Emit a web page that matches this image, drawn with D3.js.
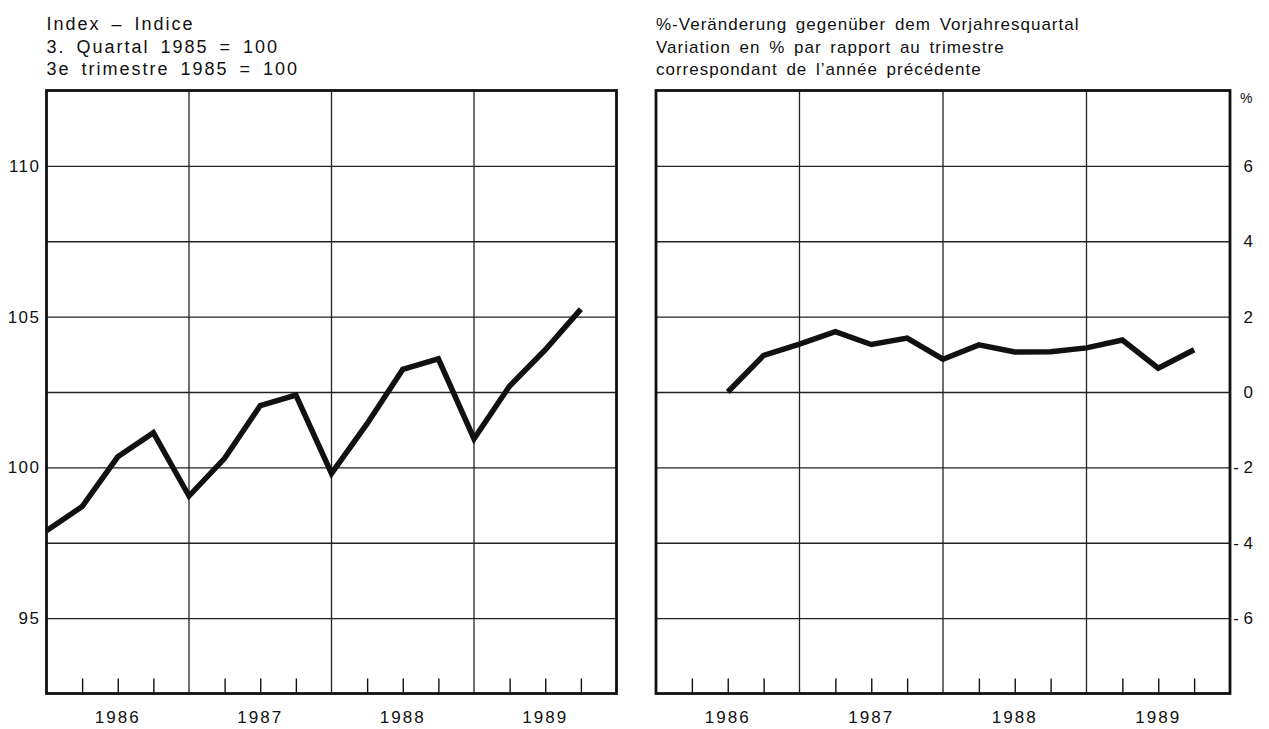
<!DOCTYPE html>
<html>
<head>
<meta charset="utf-8">
<script src="https://cdn.jsdelivr.net/npm/d3@7"></script>
<style>
  html, body { margin: 0; padding: 0; background: #fff; }
  svg { display: block; }
  text { font-family: "Liberation Sans", Arial, Helvetica, sans-serif; fill: #111; }
</style>
</head>
<body>
<svg id="chart" width="1269" height="729"></svg>
<script>
// ---- data ----
const years = ["1986", "1987", "1988", "1989"];
const quarters = ["1986 Q1","1986 Q2","1986 Q3","1986 Q4",
                  "1987 Q1","1987 Q2","1987 Q3","1987 Q4",
                  "1988 Q1","1988 Q2","1988 Q3","1988 Q4",
                  "1989 Q1","1989 Q2","1989 Q3","1989 Q4"];
// Index, 3rd quarter 1985 = 100
const indexValues = [97.9, 98.7, 100.35, 101.15, 99.05, 100.3, 102.05, 102.4,
                     99.8, 101.45, 103.25, 103.6, 100.95, 102.7, 103.9, 105.25];
// % change vs same quarter of previous year
const changeValues = [null, null, 0.0, 0.97, 1.27, 1.6, 1.26, 1.43,
                      0.87, 1.25, 1.06, 1.07, 1.17, 1.38, 0.63, 1.12];
const leftGridTicks = [95, 97.5, 100, 102.5, 105, 107.5, 110];
const leftLabelTicks = [95, 100, 105, 110];
const rightTicks = [-6, -4, -2, 0, 2, 4, 6];
const leftTitle = ["Index \u2013 Indice", "3. Quartal 1985 = 100", "3e trimestre 1985 = 100"];
const rightTitle = ["%-Ver\u00e4nderung gegen\u00fcber dem Vorjahresquartal",
                    "Variation en % par rapport au trimestre",
                    "correspondant de l\u2019ann\u00e9e pr\u00e9c\u00e9dente"];

// ---- layout ----
const svg = d3.select("#chart");
const plotTop = 90.5, plotBottom = 693.5;
const panels = [
  { x0: 46.5, x1: 616.5, domain: [92.5, 112.5], grid: leftGridTicks, labels: leftLabelTicks,
    values: indexValues, title: leftTitle, side: "left", fs: 18, ls: "2px", ws: "4px" },
  { x0: 656, x1: 1230, domain: [-8, 8], grid: rightTicks, labels: rightTicks,
    values: changeValues, title: rightTitle, side: "right", fs: 17, ls: "1px", ws: "3px" }
];

const ink = "#111";

panels.forEach(p => {
  const x = d3.scaleLinear().domain([0, quarters.length]).range([p.x0, p.x1]);
  const y = d3.scaleLinear().domain(p.domain).range([plotBottom, plotTop]);
  const g = svg.append("g");

  // titles
  g.append("g").selectAll("text").data(p.title).join("text")
    .attr("x", p.x0)
    .attr("y", (d, i) => 30 + i * 22.5)
    .attr("font-size", p.fs)
    .attr("letter-spacing", p.ls)
    .attr("word-spacing", p.ws)
    .text(d => d);

  // horizontal gridlines
  g.append("g")
    .attr("transform", `translate(${p.x0},0)`)
    .call(d3.axisLeft(y).tickValues(p.grid).tickSize(-(p.x1 - p.x0)).tickFormat(""))
    .call(a => a.select(".domain").remove())
    .call(a => a.selectAll("line").attr("stroke", "#222").attr("stroke-width", 1.3));

  // vertical year gridlines
  const yearBounds = d3.range(4, quarters.length, 4);
  g.append("g").selectAll("line").data(yearBounds).join("line")
    .attr("x1", d => x(d)).attr("x2", d => x(d))
    .attr("y1", plotTop).attr("y2", plotBottom)
    .attr("stroke", "#222").attr("stroke-width", 1.3);

  // quarter ticks along bottom
  const qTicks = d3.range(1, quarters.length).filter(i => i % 4 !== 0);
  g.append("g")
    .attr("transform", `translate(0,${plotBottom})`)
    .call(d3.axisTop(x).tickValues(qTicks).tickSize(15).tickFormat(""))
    .call(a => a.select(".domain").remove())
    .call(a => a.selectAll("line").attr("stroke", ink).attr("stroke-width", 1.4));

  // year labels
  g.append("g").selectAll("text").data(years).join("text")
    .attr("x", (d, i) => x(i * 4 + 2))
    .attr("y", 723)
    .attr("text-anchor", "middle")
    .attr("font-size", 17)
    .attr("letter-spacing", "2px")
    .text(d => d);

  // value axis labels
  if (p.side === "left") {
    g.append("g")
      .attr("transform", `translate(${p.x0 - 6},0)`)
      .call(d3.axisLeft(y).tickValues(p.labels).tickSize(0).tickPadding(0).tickFormat(d3.format("d")))
      .call(a => a.select(".domain").remove())
      .call(a => a.selectAll("text")
        .attr("font-size", 17).attr("letter-spacing", "1.5px")
        .attr("font-family", "Liberation Sans, Arial, sans-serif").attr("fill", ink));
  } else {
    g.append("g")
      .attr("transform", `translate(${p.x1 + 23},0)`)
      .call(d3.axisRight(y).tickValues(p.labels).tickSize(0).tickPadding(0)
        .tickFormat(d => d < 0 ? "- " + (-d) : String(d)))
      .call(a => a.select(".domain").remove())
      .call(a => a.selectAll("text")
        .attr("text-anchor", "end")
        .attr("font-size", 17)
        .attr("font-family", "Liberation Sans, Arial, sans-serif").attr("fill", ink));
    g.append("text")
      .attr("x", p.x1 + 10).attr("y", 103)
      .attr("font-size", 14)
      .text("%");
  }

  // data line
  const line = d3.line()
    .defined(d => d != null)
    .x((d, i) => x(i))
    .y(d => y(d));
  g.append("path")
    .datum(p.values)
    .attr("d", line)
    .attr("fill", "none")
    .attr("stroke", ink)
    .attr("stroke-width", 5.5)
    .attr("stroke-linejoin", "miter")
    .attr("stroke-miterlimit", 3);

  // frame
  g.append("rect")
    .attr("x", p.x0).attr("y", plotTop)
    .attr("width", p.x1 - p.x0).attr("height", plotBottom - plotTop)
    .attr("fill", "none")
    .attr("stroke", ink)
    .attr("stroke-width", 2.8);
});
</script>
</body>
</html>
